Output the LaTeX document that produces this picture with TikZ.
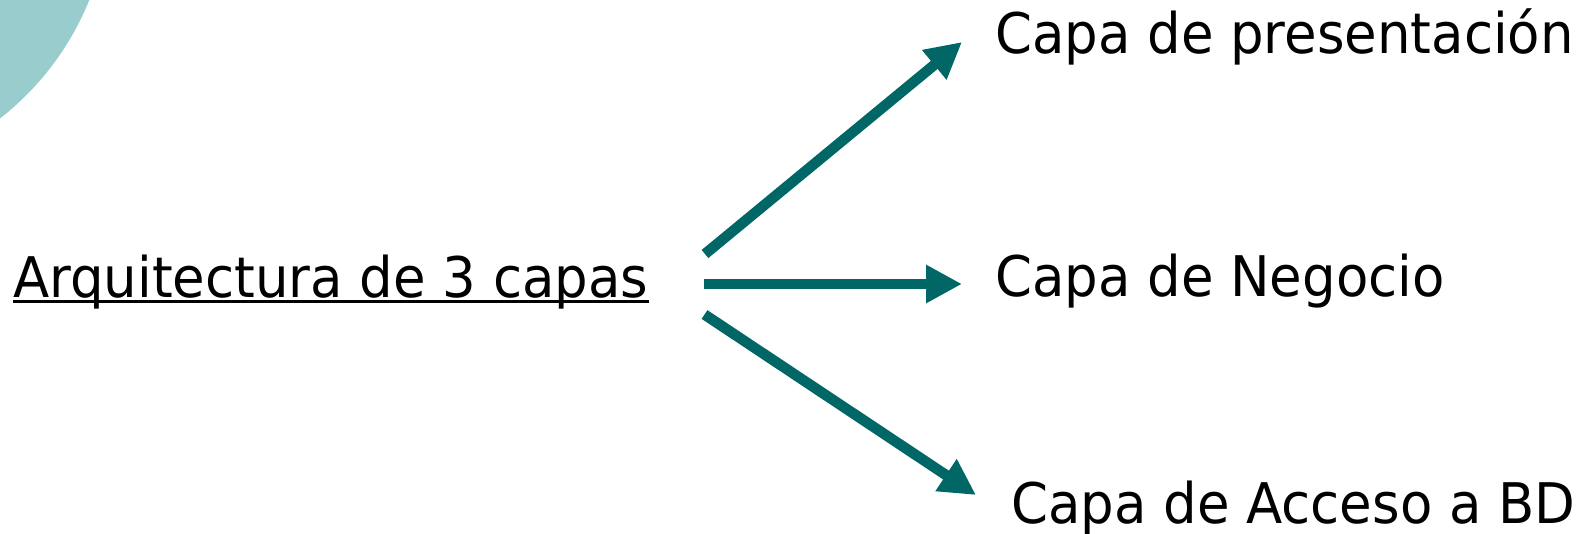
\documentclass[tikz,border=0pt]{standalone}
\usepackage{fontspec}
\setmainfont{DejaVu Sans}[FakeStretch=0.945]
\usetikzlibrary{arrows.meta}
\definecolor{arrowteal}{RGB}{0,102,102}
\definecolor{lightteal}{RGB}{153,204,204}
\tikzset{
  label text/.style={anchor=base west, inner sep=0pt, font=\fontsize{56}{60}\selectfont, text=black},
  bigarrow/.style={draw=arrowteal, line width=10.5pt, -{Triangle[length=36pt,width=36pt]}, fill=arrowteal}
}
\begin{document}
\begin{tikzpicture}[x=1pt,y=-1pt]
\useasboundingbox (0,0) rectangle (1585,533);
\begin{scope}
\clip (0,0) rectangle (1585,533);
\fill[lightteal] (-176,-107) circle[radius=286];
\end{scope}
\node[label text] (arq) at (13,297) {Arquitectura de 3 capas};
\draw[line width=3.5pt] ([yshift=-4.5pt]arq.base west) -- ([yshift=-4.5pt]arq.base east);
\node[label text] (pres) at (995,53) {Capa de presentación};
\node[label text] (neg) at (995,296) {Capa de Negocio};
\node[label text] (acc) at (1011,523) {Capa de Acceso a BD};
\coordinate (s1) at (705,254);
\coordinate (e1) at (962,42);
\coordinate (s2) at (704,284);
\coordinate (e2) at (962,284);
\coordinate (s3) at (704.5,314.5);
\coordinate (e3) at (976,495);
\draw[bigarrow] (s1) -- (e1);
\draw[bigarrow] (s2) -- (e2);
\draw[bigarrow] (s3) -- (e3);
\end{tikzpicture}
\end{document}
